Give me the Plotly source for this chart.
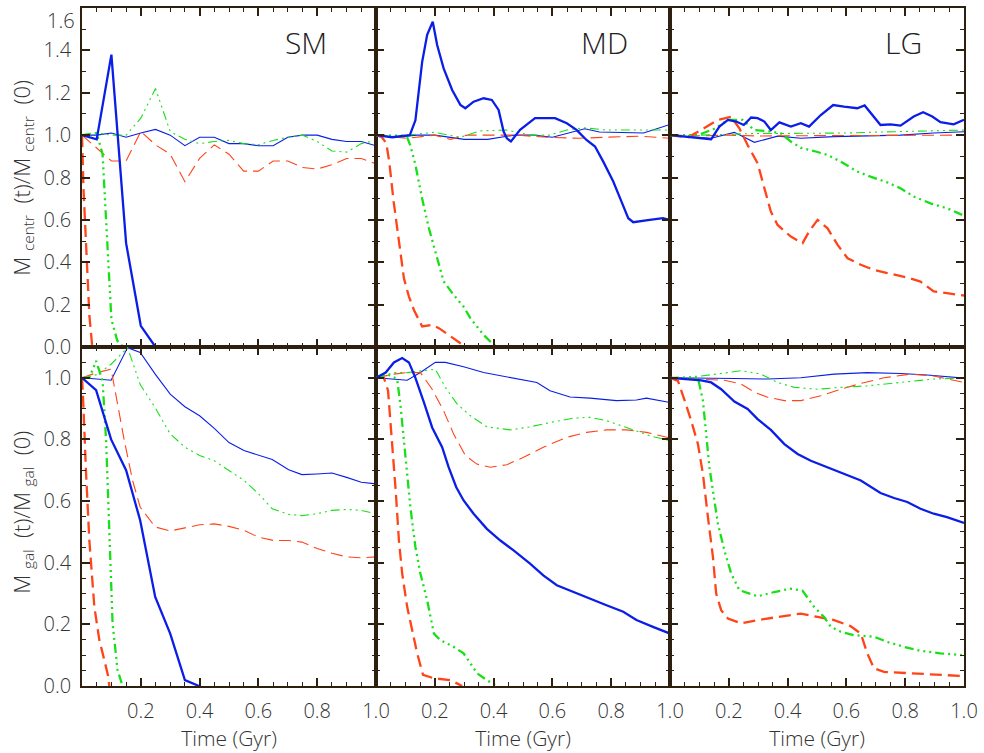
import plotly.graph_objects as go
from plotly.subplots import make_subplots

# ---------------- data: time (Gyr) and mass ratios ----------------
# ===== Top row: M_centr(t)/M_centr(0) =====
# SM
SM_C_BLUE_THICK_T = [0, 0.05, 0.1, 0.15, 0.2, 0.25]
SM_C_BLUE_THICK_V = [1.0, 0.98, 1.38, 0.49, 0.10, 0.0]
SM_C_BLUE_THIN_T = [0, 0.05, 0.1, 0.15, 0.2, 0.25, 0.3, 0.35, 0.4, 0.45, 0.5, 0.55, 0.6, 0.65, 0.7, 0.75, 0.8, 0.85, 0.9, 0.95, 1.0]
SM_C_BLUE_THIN_V = [1.0, 1.0, 1.01, 0.99, 1.01, 1.027, 1.0, 0.95, 0.99, 0.99, 0.96, 0.96, 0.95, 0.95, 0.99, 1.0, 1.0, 0.98, 0.97, 0.97, 0.95]
SM_C_RED_THICK_T = [0, 0.005, 0.015, 0.025, 0.035]
SM_C_RED_THICK_V = [1.0, 0.75, 0.45, 0.15, 0.0]
SM_C_RED_THIN_T = [0, 0.05, 0.1, 0.15, 0.2, 0.25, 0.3, 0.35, 0.4, 0.45, 0.5, 0.55, 0.6, 0.65, 0.7, 0.75, 0.8, 0.85, 0.9, 0.95, 1.0]
SM_C_RED_THIN_V = [1.0, 0.94, 0.878, 0.878, 1.017, 0.954, 0.91, 0.78, 0.89, 0.954, 0.91, 0.83, 0.83, 0.878, 0.878, 0.847, 0.84, 0.86, 0.89, 0.89, 0.864]
SM_C_GREEN_THICK_T = [0, 0.05, 0.07, 0.085, 0.1, 0.12, 0.14]
SM_C_GREEN_THICK_V = [1.0, 1.01, 0.91, 0.5, 0.13, 0.03, 0.0]
SM_C_GREEN_THIN_T = [0, 0.05, 0.1, 0.15, 0.2, 0.25, 0.3, 0.35, 0.4, 0.45, 0.5, 0.55, 0.6, 0.65, 0.7, 0.75, 0.8, 0.85, 0.9, 0.95, 1.0]
SM_C_GREEN_THIN_V = [1.0, 1.01, 1.0, 1.0, 1.08, 1.22, 1.017, 0.98, 0.96, 0.97, 0.975, 0.96, 0.955, 0.975, 0.99, 1.0, 0.97, 0.925, 0.92, 0.96, 0.975]

# MD
MD_C_BLUE_THICK_T = [0, 0.055, 0.115, 0.134, 0.157, 0.174, 0.193, 0.208, 0.23, 0.259, 0.287, 0.304, 0.332, 0.366, 0.394, 0.417, 0.434, 0.445, 0.459, 0.49, 0.541, 0.609, 0.649, 0.682, 0.716, 0.745, 0.773, 0.807, 0.835, 0.858, 0.875, 0.897, 0.931, 0.976, 1.0]
MD_C_BLUE_THICK_V = [1.0, 0.99, 1.0, 1.07, 1.346, 1.473, 1.535, 1.425, 1.315, 1.213, 1.143, 1.127, 1.158, 1.174, 1.166, 1.119, 1.017, 0.985, 0.97, 1.025, 1.08, 1.08, 1.056, 1.025, 0.977, 0.946, 0.875, 0.781, 0.686, 0.608, 0.589, 0.592, 0.6, 0.608, 0.6]
MD_C_BLUE_THIN_T = [0, 0.06, 0.14, 0.2, 0.3, 0.38, 0.47, 0.535, 0.6, 0.66, 0.71, 0.76, 0.85, 0.91, 1.0]
MD_C_BLUE_THIN_V = [1.0, 0.99, 1.0, 1.0, 0.98, 0.98, 1.0, 1.0, 0.99, 1.01, 1.03, 1.015, 1.013, 1.01, 1.05]
MD_C_RED_THICK_T = [0, 0.02, 0.035, 0.045, 0.06, 0.078, 0.095, 0.112, 0.129, 0.157, 0.175, 0.191, 0.214, 0.253, 0.287, 0.31]
MD_C_RED_THICK_V = [1.0, 0.99, 0.962, 0.875, 0.686, 0.497, 0.324, 0.238, 0.175, 0.097, 0.1, 0.105, 0.089, 0.05, 0.018, 0.0]
MD_C_RED_THIN_T = [0, 0.106, 0.2, 0.253, 0.31, 0.38, 0.48, 0.58, 0.69, 0.78, 0.9, 1.0]
MD_C_RED_THIN_V = [1.0, 0.985, 1.0, 0.98, 1.0, 1.0, 1.0, 0.99, 0.985, 0.99, 0.995, 0.985]
MD_C_GREEN_THICK_T = [0, 0.106, 0.117, 0.134, 0.157, 0.18, 0.202, 0.23, 0.264, 0.298, 0.321, 0.366, 0.4, 0.42]
MD_C_GREEN_THICK_V = [1.0, 0.99, 0.95, 0.86, 0.70, 0.56, 0.45, 0.31, 0.246, 0.19, 0.136, 0.057, 0.01, 0.0]
MD_C_GREEN_THIN_T = [0, 0.106, 0.197, 0.287, 0.355, 0.445, 0.524, 0.59, 0.649, 0.705, 0.784, 0.9, 1.0]
MD_C_GREEN_THIN_V = [1.0, 1.0, 1.013, 0.99, 1.02, 1.024, 1.0, 1.0, 1.024, 1.035, 1.024, 1.024, 1.024]

# LG
LG_C_BLUE_THICK_T = [0, 0.061, 0.14, 0.168, 0.197, 0.225, 0.251, 0.276, 0.298, 0.321, 0.343, 0.372, 0.411, 0.445, 0.473, 0.513, 0.555, 0.592, 0.637, 0.662, 0.688, 0.716, 0.75, 0.784, 0.829, 0.861, 0.892, 0.92, 0.965, 1.0]
LG_C_BLUE_THICK_V = [1.0, 0.99, 0.98, 1.04, 1.072, 1.064, 1.048, 1.083, 1.08, 1.064, 1.024, 1.06, 1.04, 1.056, 1.04, 1.095, 1.142, 1.134, 1.127, 1.14, 1.095, 1.048, 1.051, 1.045, 1.088, 1.108, 1.088, 1.061, 1.051, 1.072]
LG_C_BLUE_THIN_T = [0, 0.14, 0.219, 0.287, 0.366, 0.445, 0.558, 0.671, 0.784, 0.897, 1.0]
LG_C_BLUE_THIN_V = [1.0, 0.985, 1.013, 0.966, 0.995, 0.985, 0.993, 0.998, 1.0, 1.01, 1.016]
LG_C_RED_THICK_T = [0, 0.061, 0.106, 0.163, 0.208, 0.236, 0.264, 0.298, 0.321, 0.343, 0.366, 0.411, 0.451, 0.473, 0.502, 0.536, 0.57, 0.604, 0.649, 0.694, 0.739, 0.807, 0.852, 0.897, 0.942, 1.0]
LG_C_RED_THICK_V = [1.0, 0.99, 1.024, 1.072, 1.087, 1.032, 0.953, 0.867, 0.75, 0.639, 0.576, 0.521, 0.49, 0.545, 0.6, 0.56, 0.482, 0.419, 0.388, 0.364, 0.349, 0.328, 0.309, 0.262, 0.254, 0.243]
LG_C_RED_THIN_T = [0, 0.1, 0.2, 0.3, 0.4, 0.5, 0.6, 0.7, 0.8, 0.9, 1.0]
LG_C_RED_THIN_V = [1.0, 0.997, 1.0, 0.996, 0.997, 0.997, 0.998, 0.998, 0.999, 1.0, 1.0]
LG_C_GREEN_THICK_T = [0, 0.095, 0.151, 0.197, 0.247, 0.287, 0.343, 0.377, 0.411, 0.445, 0.49, 0.536, 0.581, 0.637, 0.682, 0.739, 0.784, 0.829, 0.886, 0.942, 1.0]
LG_C_GREEN_THICK_V = [1.0, 1.0, 1.03, 1.072, 1.072, 1.024, 1.017, 1.008, 0.97, 0.94, 0.925, 0.906, 0.875, 0.828, 0.804, 0.777, 0.749, 0.71, 0.678, 0.655, 0.62]
LG_C_GREEN_THIN_T = [0, 0.106, 0.2, 0.298, 0.4, 0.5, 0.6, 0.7, 0.8, 0.9, 1.0]
LG_C_GREEN_THIN_V = [1.0, 1.0, 1.004, 1.008, 1.008, 1.008, 1.01, 1.014, 1.017, 1.02, 1.024]

# ===== Bottom row: M_gal(t)/M_gal(0) =====
# SM
SM_G_BLUE_THICK_T = [0, 0.048, 0.099, 0.15, 0.198, 0.249, 0.3, 0.35, 0.398]
SM_G_BLUE_THICK_V = [1.0, 0.96, 0.80, 0.70, 0.537, 0.289, 0.17, 0.019, 0.0]
SM_G_BLUE_THIN_T = [0, 0.048, 0.099, 0.155, 0.198, 0.249, 0.3, 0.35, 0.4, 0.45, 0.5, 0.551, 0.6, 0.647, 0.703, 0.748, 0.8, 0.85, 0.9, 0.95, 1.0]
SM_G_BLUE_THIN_V = [1.0, 0.997, 0.992, 1.098, 1.082, 1.012, 0.947, 0.906, 0.877, 0.836, 0.79, 0.764, 0.75, 0.735, 0.702, 0.686, 0.688, 0.691, 0.677, 0.661, 0.656]
SM_G_RED_THICK_T = [0, 0.003, 0.014, 0.025, 0.042, 0.059, 0.076, 0.088, 0.093]
SM_G_RED_THICK_V = [1.0, 0.947, 0.687, 0.472, 0.257, 0.149, 0.084, 0.036, 0.0]
SM_G_RED_THIN_T = [0, 0.048, 0.099, 0.116, 0.144, 0.172, 0.198, 0.249, 0.3, 0.35, 0.4, 0.45, 0.5, 0.551, 0.6, 0.652, 0.703, 0.748, 0.8, 0.85, 0.9, 0.95, 1.0]
SM_G_RED_THIN_V = [1.0, 1.016, 1.028, 0.936, 0.796, 0.667, 0.58, 0.516, 0.503, 0.513, 0.523, 0.526, 0.518, 0.505, 0.483, 0.472, 0.472, 0.467, 0.446, 0.431, 0.419, 0.416, 0.419]
SM_G_GREEN_THICK_T = [0, 0.025, 0.048, 0.07, 0.082, 0.093, 0.104, 0.121, 0.138]
SM_G_GREEN_THICK_V = [1.0, 1.0, 1.055, 0.99, 0.795, 0.472, 0.203, 0.052, 0.0]
SM_G_GREEN_THIN_T = [0, 0.05, 0.099, 0.155, 0.198, 0.249, 0.3, 0.35, 0.4, 0.45, 0.5, 0.551, 0.6, 0.647, 0.703, 0.748, 0.8, 0.85, 0.9, 0.95, 1.0]
SM_G_GREEN_THIN_V = [1.0, 1.01, 1.044, 1.098, 0.978, 0.903, 0.818, 0.775, 0.748, 0.731, 0.699, 0.667, 0.624, 0.575, 0.557, 0.553, 0.559, 0.57, 0.573, 0.57, 0.559]

# MD
MD_G_BLUE_THICK_T = [0, 0.033, 0.061, 0.089, 0.112, 0.134, 0.163, 0.191, 0.225, 0.247, 0.273, 0.298, 0.332, 0.377, 0.423, 0.468, 0.524, 0.569, 0.615, 0.671, 0.728, 0.784, 0.841, 0.886, 0.942, 1.0]
MD_G_BLUE_THICK_V = [1.0, 1.017, 1.05, 1.064, 1.05, 1.0, 0.92, 0.839, 0.775, 0.71, 0.645, 0.602, 0.559, 0.51, 0.472, 0.44, 0.397, 0.359, 0.327, 0.305, 0.284, 0.262, 0.241, 0.214, 0.192, 0.17]
MD_G_BLUE_THIN_T = [0, 0.061, 0.106, 0.151, 0.202, 0.236, 0.298, 0.366, 0.445, 0.547, 0.592, 0.66, 0.728, 0.818, 0.886, 0.92, 1.0]
MD_G_BLUE_THIN_V = [1.0, 0.996, 0.992, 1.017, 1.05, 1.05, 1.036, 1.017, 1.003, 0.985, 0.958, 0.938, 0.934, 0.926, 0.928, 0.934, 0.92]
MD_G_RED_THICK_T = [0, 0.027, 0.041, 0.055, 0.067, 0.078, 0.089, 0.106, 0.123, 0.14, 0.16, 0.197, 0.253, 0.293]
MD_G_RED_THICK_V = [1.0, 1.0, 0.958, 0.796, 0.634, 0.472, 0.365, 0.257, 0.181, 0.106, 0.036, 0.025, 0.019, 0.0]
MD_G_RED_THIN_T = [0, 0.061, 0.106, 0.151, 0.191, 0.23, 0.264, 0.304, 0.343, 0.389, 0.445, 0.502, 0.569, 0.649, 0.716, 0.784, 0.852, 0.92, 1.0]
MD_G_RED_THIN_V = [1.0, 1.012, 1.017, 1.017, 0.963, 0.893, 0.818, 0.748, 0.72, 0.71, 0.718, 0.742, 0.775, 0.807, 0.823, 0.831, 0.831, 0.823, 0.805]
MD_G_GREEN_THICK_T = [0, 0.038, 0.072, 0.084, 0.095, 0.106, 0.117, 0.134, 0.151, 0.174, 0.197, 0.219, 0.264, 0.298, 0.344, 0.377, 0.411]
MD_G_GREEN_THICK_V = [1.0, 1.012, 0.996, 0.904, 0.796, 0.688, 0.58, 0.451, 0.365, 0.278, 0.17, 0.149, 0.127, 0.106, 0.041, 0.019, 0.0]
MD_G_GREEN_THIN_T = [0, 0.061, 0.106, 0.151, 0.202, 0.236, 0.276, 0.321, 0.377, 0.457, 0.524, 0.592, 0.671, 0.728, 0.784, 0.852, 0.931, 1.0]
MD_G_GREEN_THIN_V = [1.0, 1.017, 1.017, 1.023, 1.028, 0.969, 0.915, 0.877, 0.841, 0.831, 0.841, 0.855, 0.869, 0.872, 0.861, 0.839, 0.812, 0.796]

# LG
LG_G_BLUE_THICK_T = [0, 0.061, 0.106, 0.14, 0.174, 0.219, 0.264, 0.298, 0.343, 0.389, 0.434, 0.479, 0.536, 0.592, 0.649, 0.716, 0.762, 0.807, 0.852, 0.897, 0.942, 1.0]
LG_G_BLUE_THICK_V = [1.0, 0.996, 0.992, 0.985, 0.963, 0.923, 0.899, 0.866, 0.831, 0.785, 0.753, 0.731, 0.71, 0.69, 0.667, 0.626, 0.61, 0.597, 0.575, 0.559, 0.548, 0.529]
LG_G_BLUE_THIN_T = [0, 0.106, 0.219, 0.332, 0.445, 0.558, 0.671, 0.784, 0.875, 1.0]
LG_G_BLUE_THIN_V = [1.0, 1.0, 0.998, 0.996, 1.0, 1.012, 1.017, 1.014, 1.009, 0.999]
LG_G_RED_THICK_T = [0, 0.027, 0.05, 0.072, 0.095, 0.112, 0.129, 0.146, 0.157, 0.174, 0.197, 0.242, 0.298, 0.366, 0.445, 0.502, 0.558, 0.615, 0.649, 0.671, 0.694, 0.728, 0.784, 0.852, 0.931, 1.0]
LG_G_RED_THICK_V = [1.0, 0.99, 0.926, 0.861, 0.785, 0.688, 0.548, 0.419, 0.3, 0.246, 0.219, 0.203, 0.214, 0.224, 0.235, 0.224, 0.214, 0.194, 0.17, 0.106, 0.057, 0.046, 0.043, 0.041, 0.036, 0.032]
LG_G_RED_THIN_T = [0, 0.106, 0.185, 0.242, 0.287, 0.332, 0.389, 0.445, 0.513, 0.581, 0.649, 0.728, 0.818, 0.897, 1.0]
LG_G_RED_THIN_V = [1.0, 0.996, 0.992, 0.98, 0.953, 0.937, 0.926, 0.926, 0.942, 0.963, 0.982, 1.0, 1.012, 1.006, 0.985]
LG_G_GREEN_THICK_T = [0, 0.061, 0.095, 0.112, 0.123, 0.134, 0.146, 0.163, 0.185, 0.208, 0.236, 0.298, 0.355, 0.411, 0.451, 0.49, 0.524, 0.547, 0.581, 0.626, 0.694, 0.739, 0.796, 0.852, 0.92, 1.0]
LG_G_GREEN_THICK_V = [1.0, 1.0, 1.0, 0.926, 0.818, 0.71, 0.634, 0.526, 0.44, 0.365, 0.311, 0.291, 0.305, 0.316, 0.309, 0.257, 0.224, 0.192, 0.176, 0.165, 0.16, 0.143, 0.127, 0.114, 0.106, 0.1]
LG_G_GREEN_THIN_T = [0, 0.106, 0.174, 0.242, 0.31, 0.366, 0.423, 0.502, 0.581, 0.671, 0.784, 0.897, 1.0]
LG_G_GREEN_THIN_V = [1.0, 1.006, 1.014, 1.023, 1.012, 0.985, 0.969, 0.963, 0.969, 0.974, 0.985, 0.996, 1.0]

PANEL_LABELS = ["SM", "MD", "LG"]
X_TICKS = [0.0, 0.2, 0.4, 0.6, 0.8, 1.0]
X_TICK_TEXT = ["", "0.2", "0.4", "0.6", "0.8", "1.0"]
Y_TOP_TICKS = [0.0, 0.2, 0.4, 0.6, 0.8, 1.0, 1.2, 1.4, 1.6]
Y_BOT_TICKS = [0.0, 0.2, 0.4, 0.6, 0.8, 1.0]

# ---------------- styling ----------------
BLUE = "#0a1ee8"
RED = "#ff4418"
GREEN = "#18e018"
AXIS = "#2e2010"
TXT = "#333333"
FONT = "Open Sans, Liberation Sans, sans-serif"
WEIGHT = 300
DASH_RED = "12px,6px"
DASH_GREEN = "9px,4px,2px,4px,2px,4px,2px,4px"
THIN, THICK = 1.1, 2.3

def series(pre):
    g = globals()
    return [(g[pre + "_BLUE_THIN_T"], g[pre + "_BLUE_THIN_V"], BLUE, "solid", THIN),
            (g[pre + "_RED_THIN_T"], g[pre + "_RED_THIN_V"], RED, DASH_RED, THIN),
            (g[pre + "_GREEN_THIN_T"], g[pre + "_GREEN_THIN_V"], GREEN, DASH_GREEN, THIN),
            (g[pre + "_RED_THICK_T"], g[pre + "_RED_THICK_V"], RED, DASH_RED, THICK),
            (g[pre + "_GREEN_THICK_T"], g[pre + "_GREEN_THICK_V"], GREEN, DASH_GREEN, THICK),
            (g[pre + "_BLUE_THICK_T"], g[pre + "_BLUE_THICK_V"], BLUE, "solid", THICK)]

panels = {(1, 1): series("SM_C"), (1, 2): series("MD_C"), (1, 3): series("LG_C"),
          (2, 1): series("SM_G"), (2, 2): series("MD_G"), (2, 3): series("LG_G")}

fig = make_subplots(rows=2, cols=3, horizontal_spacing=0, vertical_spacing=0)

for (r, c), sers in panels.items():
    for t, v, color, dash, width in sers:
        fig.add_trace(go.Scatter(x=t, y=v, mode="lines",
                                 line=dict(color=color, width=width, dash=dash),
                                 showlegend=False, hoverinfo="skip"),
                      row=r, col=c)

tickfont = dict(family=FONT, size=20, color=TXT, weight=WEIGHT)

for r in (1, 2):
    for c in (1, 2, 3):
        fig.update_xaxes(
            range=[0, 1.0], tickmode="array", tickvals=X_TICKS,
            ticktext=X_TICK_TEXT, showticklabels=(r == 2),
            ticks="inside", ticklen=8, tickwidth=1.5, tickcolor=AXIS,
            minor=dict(dtick=0.05, tick0=0, ticks="inside", ticklen=4, tickwidth=1.2, tickcolor=AXIS),
            showline=True, linecolor=AXIS, linewidth=1.6, mirror="allticks",
            showgrid=False, zeroline=False, ticklabelstandoff=6,
            tickfont=tickfont,
            title=dict(text="Time (Gyr)" if r == 2 else "",
                       font=dict(family=FONT, size=21, color=TXT, weight=WEIGHT), standoff=0),
            row=r, col=c)
        if r == 1:
            fig.update_yaxes(range=[0, 1.6], tickmode="array", tickvals=Y_TOP_TICKS,
                             ticktext=["%.1f" % v if v < 1.55 else "" for v in Y_TOP_TICKS],
                             minor=dict(dtick=0.1, tick0=0, ticks="inside", ticklen=4, tickwidth=1.2, tickcolor=AXIS),
                             row=r, col=c)
        else:
            fig.update_yaxes(range=[0, 1.1], tickmode="array", tickvals=Y_BOT_TICKS,
                             ticktext=["%.1f" % v for v in Y_BOT_TICKS],
                             minor=dict(dtick=0.05, tick0=0, ticks="inside", ticklen=4, tickwidth=1.2, tickcolor=AXIS),
                             row=r, col=c)
        fig.update_yaxes(
            showticklabels=(c == 1),
            ticks="inside", ticklen=8, tickwidth=1.5, tickcolor=AXIS,
            showline=True, linecolor=AXIS, linewidth=1.6, mirror="allticks",
            showgrid=False, zeroline=False,
            ticklabelstandoff=5,
            tickfont=tickfont,
            row=r, col=c)

W, H = 984, 753
ML, MR, MT, MB = 82, 17, 6, 67
PW, PH = W - ML - MR, H - MT - MB

def px_to_paper(x, y):
    return (x - ML) / PW, 1 - (y - MT) / PH

annotations = []
# top tick label of the upper-left panel (nudged inside the figure, as in the original)
annotations.append(dict(text="%.1f" % Y_TOP_TICKS[-1], x=0, xref="x domain", y=Y_TOP_TICKS[-1], yref="y",
                        xanchor="right", yanchor="top", xshift=-5, yshift=3, showarrow=False,
                        font=tickfont))
for i, (lab, xc) in enumerate(zip(PANEL_LABELS, [307, 606, 906])):
    xp, yp = px_to_paper(xc, 41)
    annotations.append(dict(text=lab, x=xp, y=yp, xref="paper", yref="paper",
                            showarrow=False, xanchor="center", yanchor="middle",
                            font=dict(family=FONT, size=30, color="#222", weight=WEIGHT)))
NB = "&nbsp;"
xp, yp = px_to_paper(22, 176)
annotations.append(dict(text="M" + NB + "<sub>centr</sub>" + NB * 2 + "(t)/M" + NB + "<sub>centr</sub>" + NB * 2 + "(0)",
                        x=xp, y=yp, xref="paper", yref="paper", showarrow=False, textangle=-90,
                        xanchor="center", yanchor="middle",
                        font=dict(family=FONT, size=22, color=TXT, weight=WEIGHT)))
xp, yp = px_to_paper(22, 512)
annotations.append(dict(text="M" + NB + "<sub>gal</sub>" + NB * 2 + "(t)/M" + NB + "<sub>gal</sub>" + NB * 2 + "(0)",
                        x=xp, y=yp, xref="paper", yref="paper", showarrow=False, textangle=-90,
                        xanchor="center", yanchor="middle",
                        font=dict(family=FONT, size=22, color=TXT, weight=WEIGHT)))

fig.update_layout(width=W, height=H, margin=dict(l=ML, r=MR, t=MT, b=MB),
                  plot_bgcolor="white", paper_bgcolor="white",
                  annotations=annotations, showlegend=False)

fig.write_html("out.html", config={"displayModeBar": False},
               post_script="document.body.style.margin='0px';")
